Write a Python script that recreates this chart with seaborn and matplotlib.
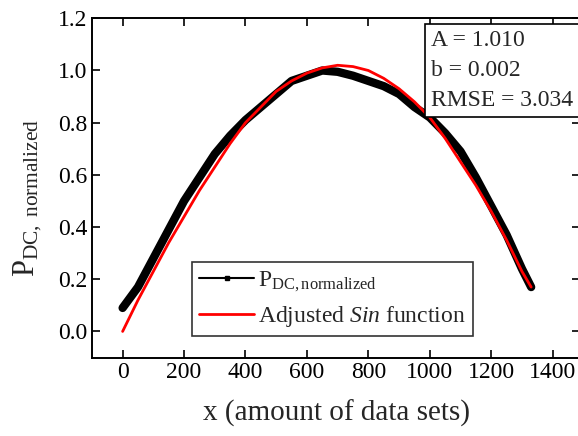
import numpy as np
import pandas as pd
import matplotlib
matplotlib.use("Agg")
import matplotlib.pyplot as plt
from matplotlib.lines import Line2D
import seaborn as sns

x_data = [0, 50, 100, 150, 200, 250, 300, 350, 400, 450, 500, 550, 600, 650,
          700, 750, 800, 850, 900, 950, 1000, 1050, 1100, 1150, 1200, 1250, 1300, 1330]
p_data = [0.09, 0.17, 0.28, 0.39, 0.50, 0.59, 0.68, 0.75, 0.81, 0.86, 0.91, 0.96, 0.98, 1.00,
          0.995, 0.98, 0.96, 0.94, 0.91, 0.86, 0.82, 0.76, 0.69, 0.59, 0.48, 0.37, 0.24, 0.17]

# adjusted sin curve
x_fit = [0, 50, 100, 150, 200, 250, 300, 350, 400, 450, 500, 550, 600, 650,
         700, 750, 800, 850, 900, 950, 1000, 1050, 1100, 1150, 1200, 1250, 1300, 1330]
p_fit = [0.0, 0.12, 0.23, 0.34, 0.44, 0.54, 0.63, 0.72, 0.80, 0.86, 0.92, 0.96, 0.99, 1.01,
         1.02, 1.015, 1.00, 0.97, 0.93, 0.88, 0.82, 0.74, 0.65, 0.56, 0.46, 0.35, 0.23, 0.17]

fit_params = ["A = 1.010", "b = 0.002", "RMSE = 3.034"]

sns.set_style("ticks")
plt.rcParams["font.family"] = ["Liberation Serif", "DejaVu Serif"]
plt.rcParams["mathtext.fontset"] = "custom"
plt.rcParams["mathtext.rm"] = "Liberation Serif"
plt.rcParams["mathtext.it"] = "Liberation Serif:italic"

df_data = pd.DataFrame({"x": x_data, "p": p_data})
df_fit = pd.DataFrame({"x": x_fit, "p": p_fit})

fig = plt.figure(figsize=(5.78, 4.36), dpi=100)
# axes run a little past the right edge, like the cropped original
ax = fig.add_axes([0.159, 0.18, 1.004 - 0.159, 0.958 - 0.18])

sns.lineplot(data=df_data, x="x", y="p", color="black", lw=6, ax=ax, legend=False,
             solid_joinstyle="round", solid_capstyle="round")
sns.lineplot(data=df_fit, x="x", y="p", color="#ff0000", lw=2, ax=ax, legend=False)

ax.set_xlim(-100, 1490)
ax.set_ylim(-0.1, 1.2)
ax.set_xticks(range(0, 1401, 200))
ax.set_yticks(np.arange(0, 1.21, 0.2))
ax.set_yticklabels([f"{v:.1f}" for v in np.arange(0, 1.21, 0.2)])
ax.tick_params(direction="in", top=True, right=True, length=6, width=1.2,
               labelsize=17, colors="black")
for s in ax.spines.values():
    s.set_linewidth(1.4)
    s.set_color("black")
# the right spine sits just outside the cropped picture
ax.spines["right"].set_visible(False)

ax.set_xlabel("x (amount of data sets)", fontsize=21, labelpad=12)
ax.set_ylabel(r"P$_{\mathrm{DC,\ normalized}}$", fontsize=22)
ax.yaxis.set_label_coords(-0.098, 0.47)

handles = [Line2D([], [], color="black", lw=1.5, marker="s", markersize=3.5),
           Line2D([], [], color="#ff0000", lw=2)]
labels = [r"P$_{\mathrm{DC,normalized}}$", r"Adjusted $\mathit{Sin}$ function"]
leg = ax.legend(handles, labels, loc="lower left", bbox_to_anchor=(0.2055, 0.062),
                fontsize=17, frameon=True, fancybox=False, handlelength=2.3,
                handletextpad=0.2, borderpad=0.3, labelspacing=0.45, borderaxespad=0)
leg.get_frame().set_edgecolor("black")
leg.get_frame().set_linewidth(1.2)

ax.text(0.694, 0.965, "\n".join(fit_params), transform=ax.transAxes, fontsize=17,
        va="top", ha="left", linespacing=1.55,
        bbox=dict(boxstyle="square,pad=0.25", fc="white", ec="black", lw=1.2))

fig.savefig("out.png", dpi=100)
